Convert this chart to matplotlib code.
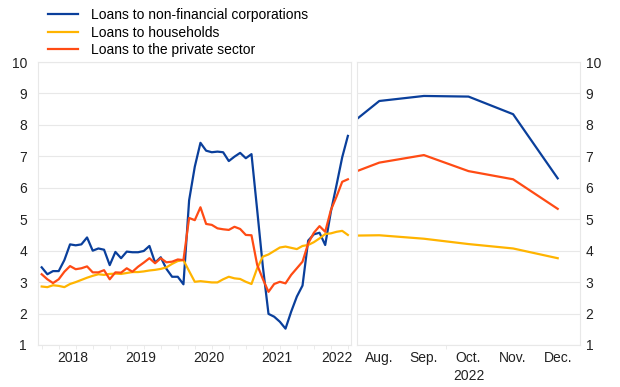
import numpy as np
import matplotlib
matplotlib.use("Agg")
import matplotlib.pyplot as plt

plt.rcParams['font.family'] = ['Liberation Sans', 'DejaVu Sans']

# monthly data, Jan 2018 - Jul 2022
nfc = [3.47, 3.25, 3.35, 3.35, 3.70, 4.20, 4.17, 4.20, 4.42, 4.00, 4.07, 4.03,
       3.54, 3.96, 3.76, 3.97, 3.95, 3.95, 3.99, 4.15, 3.62, 3.79, 3.42, 3.17,
       3.17, 2.93, 5.60, 6.67, 7.43, 7.18, 7.13, 7.15, 7.13, 6.85, 6.99, 7.11,
       6.94, 7.07, 5.30, 3.50, 1.99, 1.90, 1.74, 1.52, 2.06, 2.54, 2.89, 4.32,
       4.52, 4.57, 4.18, 5.24, 6.09, 6.97, 7.65]
households = [2.86, 2.84, 2.90, 2.88, 2.84, 2.94, 3.00, 3.07, 3.14, 3.20, 3.25, 3.23,
              3.26, 3.27, 3.26, 3.29, 3.32, 3.32, 3.34, 3.37, 3.39, 3.42, 3.47, 3.58,
              3.67, 3.70, 3.35, 3.01, 3.03, 3.01, 2.99, 2.99, 3.09, 3.17, 3.12, 3.10,
              3.01, 2.94, 3.44, 3.81, 3.88, 3.99, 4.10, 4.13, 4.09, 4.05, 4.15, 4.18,
              4.27, 4.39, 4.53, 4.55, 4.60, 4.63, 4.50]
private = [3.25, 3.09, 2.97, 3.09, 3.33, 3.51, 3.41, 3.44, 3.50, 3.31, 3.31, 3.38,
           3.09, 3.31, 3.30, 3.44, 3.33, 3.49, 3.62, 3.76, 3.60, 3.76, 3.63, 3.65,
           3.72, 3.70, 5.04, 4.97, 5.38, 4.85, 4.82, 4.71, 4.68, 4.66, 4.76, 4.69,
           4.50, 4.49, 3.55, 3.10, 2.69, 2.94, 3.01, 2.96, 3.23, 3.44, 3.65, 4.23,
           4.57, 4.78, 4.60, 5.29, 5.72, 6.19, 6.27]
years = ['2018', '2019', '2020', '2021', '2022']

# right panel (2022)
months = ['Aug.', 'Sep.', 'Oct.', 'Nov.', 'Dec.']
nfc_2022 = [8.19, 8.76, 8.92, 8.90, 8.34, 6.30]
households_2022 = [4.48, 4.49, 4.38, 4.21, 4.07, 3.76]
private_2022 = [6.53, 6.80, 7.04, 6.53, 6.27, 5.33]

blue = '#0a3f9b'
yellow = '#ffb400'
orange = '#ff4b14'
grid_c = '#e8e8e8'
fs = 10

fig = plt.figure(figsize=(6.2, 3.87), dpi=100)
ax1 = fig.add_axes([38/620, 1-345/387, 313/620, 283/387])
ax2 = fig.add_axes([357/620, 1-345/387, 223/620, 283/387])

x = np.arange(len(nfc))
ax1.plot(x, nfc, color=blue, lw=1.6, label='Loans to non-financial corporations')
ax1.plot(x, households, color=yellow, lw=1.6, label='Loans to households')
ax1.plot(x, private, color=orange, lw=1.6, label='Loans to the private sector')
ax1.set_xlim(-0.65, 54.55)
ax1.set_xticks([5.5, 17.5, 29.5, 41.5, 52])
ax1.set_xticklabels(years)
ax1.set_xticks(np.arange(0, 55, 3), minor=True)

xr = [0, 0.5, 1.5, 2.5, 3.5, 4.5]
ax2.plot(xr, nfc_2022, color=blue, lw=1.6)
ax2.plot(xr, households_2022, color=yellow, lw=1.6)
ax2.plot(xr, private_2022, color=orange, lw=1.6)
ax2.set_xlim(0, 5)
ax2.set_xticks([0.5, 1.5, 2.5, 3.5, 4.5])
ax2.set_xticklabels(months)
ax2.set_xticks([0.5, 1.5, 2.0, 2.5, 3.5, 4.5], minor=True)
ax2.text(2.5, -24/283, '2022', transform=ax2.get_xaxis_transform(), ha='center',
         va='top', fontsize=fs, color='#222222')

for ax in (ax1, ax2):
    ax.set_ylim(1, 10)
    ax.set_yticks(range(1, 11))
    ax.grid(axis='y', color=grid_c, lw=0.8)
    ax.set_axisbelow(True)
    for s in ax.spines.values():
        s.set_color(grid_c)
        s.set_linewidth(0.8)
    ax.tick_params(axis='x', which='major', length=0, labelsize=fs, colors='#222222', pad=4)
    ax.tick_params(axis='x', which='minor', length=3, color=grid_c)
    ax.tick_params(axis='y', length=0, labelsize=fs, colors='#222222')

ax1.tick_params(axis='y', pad=8)
ax2.yaxis.tick_right()
ax2.tick_params(axis='y', pad=4)

fig.legend(loc='upper left', bbox_to_anchor=(40/620, 1.0), frameon=False, fontsize=fs,
           handlelength=2.1, handletextpad=0.95, labelspacing=0.25, borderaxespad=0.2)

fig.savefig('out.png', dpi=100)
